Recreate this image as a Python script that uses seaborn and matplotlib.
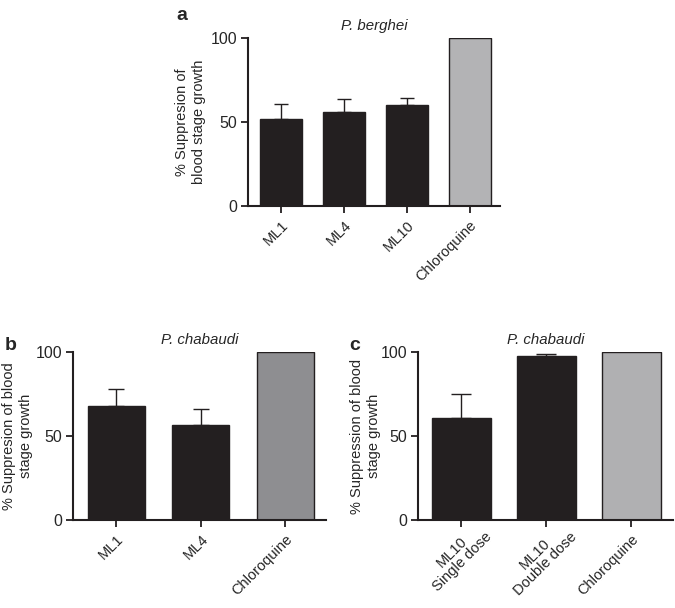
import matplotlib
matplotlib.use("Agg")
import matplotlib.pyplot as plt
import matplotlib.transforms as mtransforms
import seaborn as sns
import numpy as np

sns.set_style("ticks")
plt.rcParams['font.family'] = ['Liberation Sans', 'DejaVu Sans']

# panel a - P. berghei
a_labels = ["ML1", "ML4", "ML10", "Chloroquine"]
a_means = [51.8, 56.0, 60.0, 100.0]
a_err = [9.0, 7.7, 4.3, 0.0]
a_colors = ["#231f20", "#231f20", "#231f20", "#b3b3b5"]

# panel b - P. chabaudi
b_labels = ["ML1", "ML4", "Chloroquine"]
b_means = [67.9, 56.5, 100.0]
b_err = [10.1, 9.5, 0.0]
b_colors = ["#231f20", "#231f20", "#8e8e91"]

# panel c - P. chabaudi, single vs double dose
c_labels = ["ML10\nSingle dose", "ML10\nDouble dose", "Chloroquine"]
c_means = [60.7, 97.8, 100.0]
c_err = [14.3, 1.2, 0.0]
c_colors = ["#231f20", "#231f20", "#b0b0b2"]

W, H = 675, 608
fig = plt.figure(figsize=(W / 100, H / 100), dpi=100)


def add_axes(left, right, top, bottom):
    return fig.add_axes([left / W, 1 - bottom / H, (right - left) / W, (bottom - top) / H])


def panel(ax, labels, means, err, colors, width, ylabel, title, xlim, capsize, ylab_x):
    sns.barplot(x=labels, y=means, hue=labels, palette=colors, legend=False,
                width=width, edgecolor="#231f20", linewidth=1.0, ax=ax,
                saturation=1)
    x = np.arange(len(labels))
    m = np.array(err) > 0
    ax.errorbar(x[m], np.array(means)[m], yerr=[np.zeros(m.sum()), np.array(err)[m]],
                fmt="none", ecolor="#231f20", elinewidth=1.0, capsize=capsize,
                capthick=1.0, zorder=0)
    ax.set_ylim(0, 100)
    ax.set_xlim(*xlim)
    ax.set_yticks([0, 50, 100])
    ax.set_ylabel(ylabel, fontsize=10.5, linespacing=1.3)
    ax.yaxis.set_label_coords(ylab_x, 0.5)
    ax.set_title(title, fontsize=10.8, style="italic", pad=6)
    ax.tick_params(axis="y", labelsize=11.5, width=1.3, length=5, pad=3, color="#231f20")
    ax.tick_params(axis="x", labelsize=10.5, width=1.3, length=5, color="#231f20")
    for lbl in ax.get_xticklabels():
        lbl.set_rotation(45)
        lbl.set_ha("right")
        lbl.set_rotation_mode("anchor")
        lbl.set_multialignment("center")
        lbl.set_linespacing(1.0)
        if "\n" in lbl.get_text():
            # keep the first line's end at the tick, like the original
            lbl.set_transform(lbl.get_transform() +
                              mtransforms.ScaledTranslation(0.13, 0.12, fig.dpi_scale_trans))
    for s in ["left", "bottom"]:
        ax.spines[s].set_linewidth(1.5)
        ax.spines[s].set_color("#231f20")
    sns.despine(ax=ax)


ax_a = add_axes(248, 500, 38, 206)
panel(ax_a, a_labels, a_means, a_err, a_colors, 0.67,
      "% Suppresion of\nblood stage growth", "P. berghei", (-0.52, 3.48), 5, -0.165)

ax_b = add_axes(73, 326, 352, 520)
panel(ax_b, b_labels, b_means, b_err, b_colors, 0.67,
      "% Suppresion of blood\nstage growth", "P. chabaudi", (-0.51, 2.48), 6, -0.158)

ax_c = add_axes(418, 673, 352, 520)
panel(ax_c, c_labels, c_means, c_err, c_colors, 0.70,
      "% Suppression of blood\nstage growth", "P. chabaudi", (-0.51, 2.49), 7, -0.145)

fig.text(176 / W, 1 - 15 / H, "a", fontsize=14, fontweight="bold", va="center")
fig.text(5 / W, 1 - 346 / H, "b", fontsize=14, fontweight="bold", va="center")
fig.text(349 / W, 1 - 346 / H, "c", fontsize=14, fontweight="bold", va="center")

fig.savefig("out.png", dpi=100)
